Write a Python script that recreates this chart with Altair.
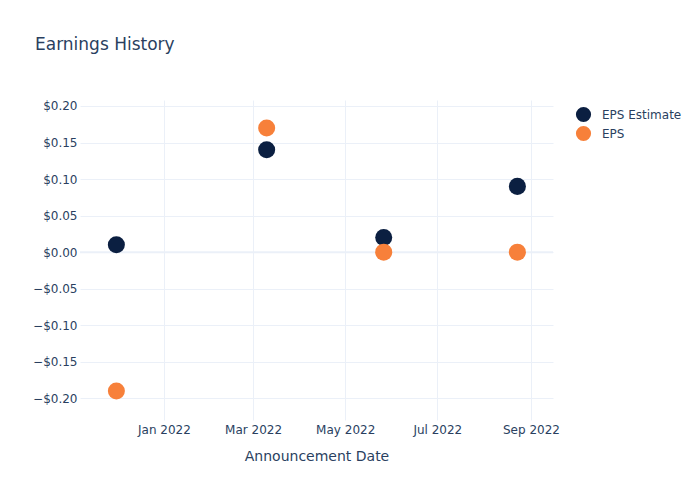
import altair as alt
import pandas as pd

dates = ["2021-11-30T12:00:00", "2022-03-10T00:00:00", "2022-05-26T12:00:00", "2022-08-23T00:00:00"]
eps_estimate = [0.01, 0.14, 0.02, 0.09]
eps_actual = [-0.19, 0.17, 0.00, 0.00]
series = ["EPS Estimate", "EPS"]
colors = ["#0b1f41", "#f7803a"]
y_ticks = [-0.2, -0.15, -0.1, -0.05, 0.0, 0.05, 0.1, 0.15, 0.2]

rows = []
for d, v in zip(dates, eps_estimate):
    rows.append({"date": d, "value": v, "series": series[0]})
for d, v in zip(dates, eps_actual):
    rows.append({"date": d, "value": v, "series": series[1]})
df = pd.DataFrame(rows)

FONT = "DejaVu Sans"
TXT = "#2a3f5f"
GRID = "#ebf0f8"
Y_DOMAIN = [-0.2297, 0.2082]

x_enc = alt.X(
    "date:T",
    title="Announcement Date",
    scale=alt.Scale(domain=["2021-11-06T10:00:00", "2022-09-15T14:00:00"], nice=False),
    axis=alt.Axis(
        values=[alt.DateTime(year=2022, month=m, date=1) for m in [1, 3, 5, 7, 9]],
        format="%b %Y", labelFont=FONT, labelFontSize=12, labelColor=TXT,
        titleFont=FONT, titleFontSize=14, titleColor=TXT, titleFontWeight="normal",
        titlePadding=14, domain=False, ticks=False, labelPadding=4,
        gridColor=GRID, gridWidth=1,
    ),
)
y_axis = alt.Axis(
    values=y_ticks, format="$.2f", labelFont=FONT, labelFontSize=12, labelColor=TXT,
    domain=False, ticks=False, labelPadding=3, gridColor=GRID, gridWidth=1, title=None,
)
y_enc = alt.Y("value:Q", title=None,
              scale=alt.Scale(domain=Y_DOMAIN, nice=False, zero=False), axis=y_axis)

zero = alt.Chart(pd.DataFrame({"value": [0.0]})).mark_rule(color=GRID, strokeWidth=2).encode(
    y=alt.Y("value:Q", title=None,
            scale=alt.Scale(domain=Y_DOMAIN, nice=False, zero=False), axis=y_axis)
)

points = alt.Chart(df).mark_point(filled=True, opacity=1, size=290, shape="circle").encode(
    x=x_enc,
    y=y_enc,
    color=alt.Color(
        "series:N",
        scale=alt.Scale(domain=series, range=colors),
        legend=alt.Legend(
            title=None, orient="none", legendX=495, legendY=6,
            labelFont=FONT, labelFontSize=12, labelColor=TXT, symbolSize=230,
            symbolType="circle", rowPadding=2, labelOffset=10,
        ),
    ),
    order=alt.Order("order:Q"),
).transform_calculate(order="datum.series == 'EPS' ? 1 : 0")

chart = alt.layer(zero, points).properties(
    width=473,
    height=320,
    background="white",
    title=alt.TitleParams(
        "Earnings History", anchor="start", frame="group", dx=-45, dy=-42,
        font=FONT, fontSize=17, color=TXT, fontWeight="normal",
    ),
    padding={"left": 80, "top": 100, "right": 147, "bottom": 80},
    autosize=alt.AutoSizeParams(type="none"),
).configure_view(stroke=None)

chart.save("out.html", embed_options={"renderer": "svg", "actions": False})
